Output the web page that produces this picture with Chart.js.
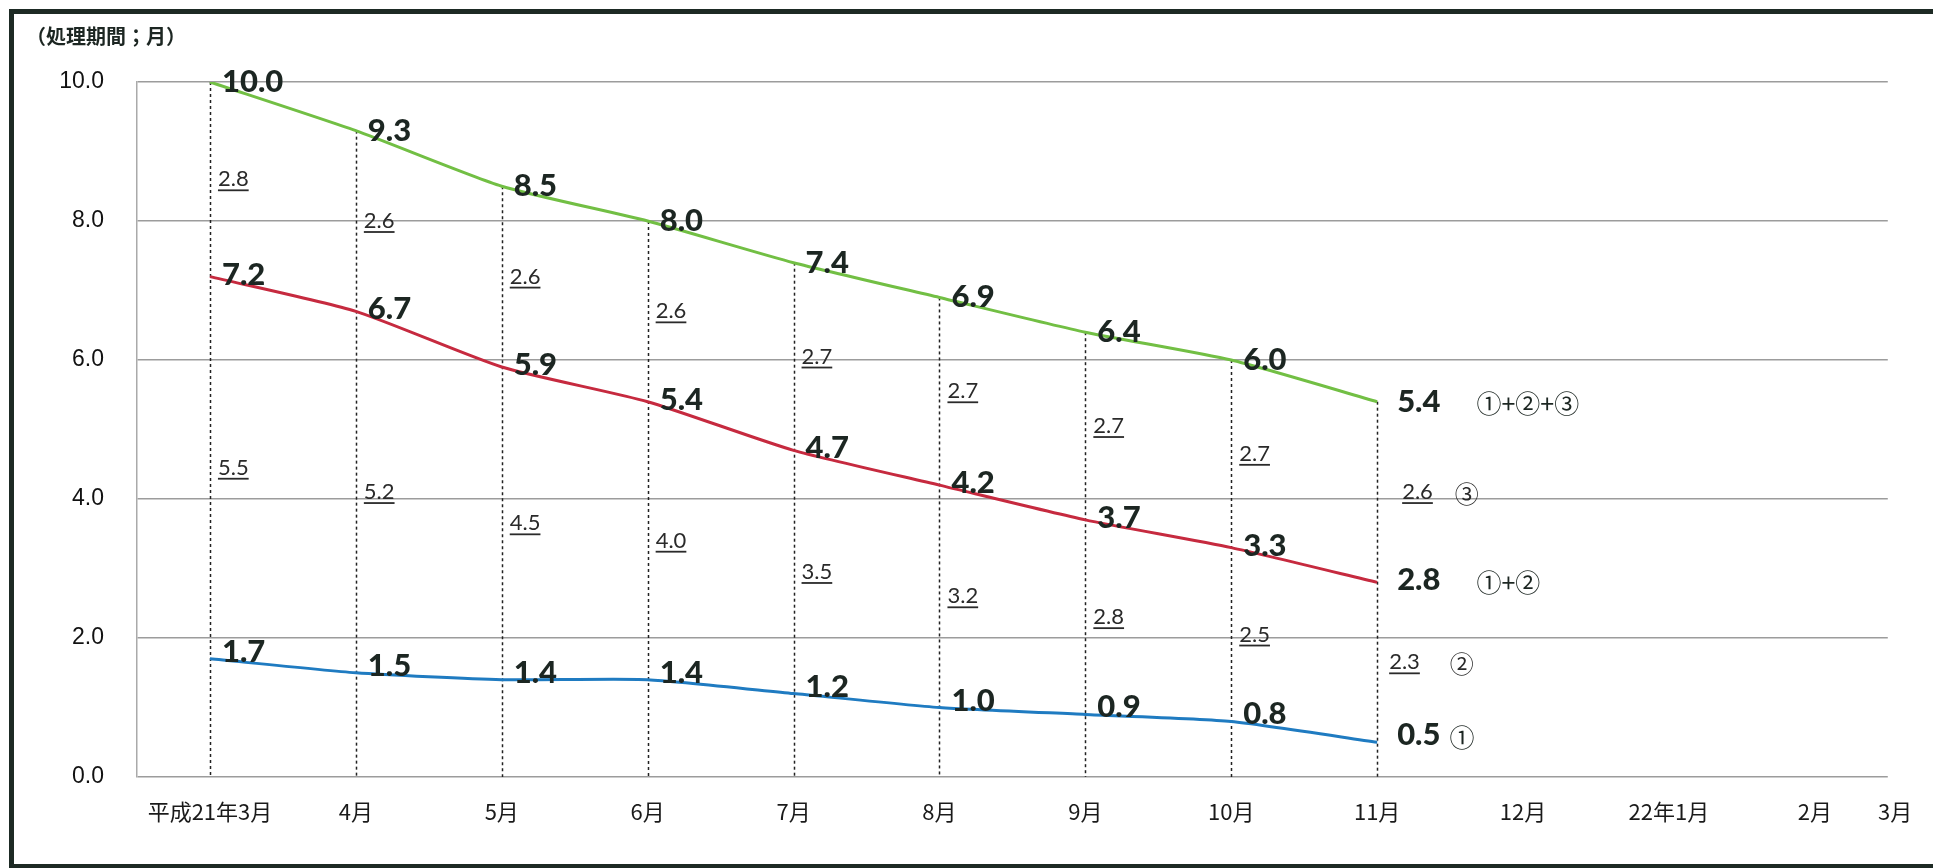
<!DOCTYPE html>
<html lang="ja">
<head>
<meta charset="utf-8">
<title>処理期間の推移</title>
<script src="https://cdn.jsdelivr.net/npm/chart.js@4.4.1/dist/chart.umd.min.js"></script>
<style>
  html, body { margin: 0; padding: 0; background: #fff; }
  #wrap { position: relative; width: 1933px; height: 868px; overflow: hidden; }
  #frame {
    position: absolute; left: 9px; top: 9px; width: 1940px; height: 850px;
    border: 5px solid #1d2a24; border-right: none; pointer-events: none;
  }
  canvas { position: absolute; left: 0; top: 0; }
</style>
</head>
<body>
<div id="wrap">
  <canvas id="chart" width="1933" height="868"></canvas>
  <div id="frame"></div>
</div>
<script>
// ── Data ─────────────────────────────────────────────────────────
const X_LABELS = ['平成21年3月', '4月', '5月', '6月', '7月', '8月', '9月', '10月', '11月', '12月', '22年1月', '2月', '3月'];
const TOTAL   = [10.0, 9.3, 8.5, 8.0, 7.4, 6.9, 6.4, 6.0, 5.4];   // ①+②+③
const ONE_TWO = [7.2, 6.7, 5.9, 5.4, 4.7, 4.2, 3.7, 3.3, 2.8];    // ①+②
const ONE     = [1.7, 1.5, 1.4, 1.4, 1.2, 1.0, 0.9, 0.8, 0.5];    // ①
const TWO     = [5.5, 5.2, 4.5, 4.0, 3.5, 3.2, 2.8, 2.5, 2.3];    // ②
const THREE   = [2.8, 2.6, 2.6, 2.6, 2.7, 2.7, 2.7, 2.7, 2.6];    // ③
const Y_TITLE = '（処理期間；月）';

// Shared styles
const INK  = '#1c2622';
const GRID = '#9c9c9c';
const CJK  = '"Noto Sans CJK JP", sans-serif';
const NUM  = 'Lato, "Open Sans", sans-serif';

// series lines, drawn as cumulative totals
const SERIES = [
  { data: TOTAL,   color: '#72bf44', tag: '①+②+③', tagGap: 36, dy: 0 },
  { data: ONE_TWO, color: '#c62a3f', tag: '①+②',   tagGap: 36, dy: -2 },
  { data: ONE,     color: '#1f7bc1', tag: '①',     tagGap: 9,  dy: -7 }
];

// component values written between the lines (underlined)
const PARTS = [
  { data: THREE, upper: TOTAL,   lower: ONE_TWO, tag: '③', lastDx: 25, tagGap: 22 },
  { data: TWO,   upper: ONE_TWO, lower: ONE,     tag: '②', lastDx: 12, tagGap: 30 }
];

const LAST = TOTAL.length - 1;

// ── Dashed drop lines from the top line to the axis ──────────────
const dropLines = {
  id: 'dropLines',
  beforeDatasetsDraw(chart) {
    const { ctx, scales: { x, y } } = chart;
    ctx.save();
    ctx.strokeStyle = '#222';
    ctx.lineWidth = 1.5;
    ctx.setLineDash([3, 3]);
    TOTAL.forEach((v, i) => {
      const px = Math.round(x.getPixelForValue(i)) + 0.5;
      ctx.beginPath();
      ctx.moveTo(px, y.getPixelForValue(v));
      ctx.lineTo(px, y.getPixelForValue(0));
      ctx.stroke();
    });
    ctx.restore();
  }
};

// ── Value labels, component labels, axis title ───────────────────
const labels = {
  id: 'labels',
  afterDatasetsDraw(chart) {
    const { ctx, scales: { x, y } } = chart;
    ctx.save();
    ctx.textBaseline = 'middle';
    ctx.textAlign = 'left';
    ctx.fillStyle = INK;

    SERIES.forEach(s => {
      s.data.forEach((v, i) => {
        const px = x.getPixelForValue(i) + (i === LAST ? 20 : 12);
        const py = y.getPixelForValue(v) + s.dy;
        const t = v.toFixed(1);
        ctx.fillStyle = INK;
        ctx.font = `900 31px ${NUM}`;
        ctx.fillText(t, px, py);
        if (i === LAST) {
          const w = ctx.measureText(t).width;
          ctx.font = `25px ${CJK}`;
          ctx.fillText(s.tag, px + w + s.tagGap, py + 2);
        }
      });
    });

    PARTS.forEach(p => {
      p.data.forEach((v, i) => {
        const px = x.getPixelForValue(i) + (i === LAST ? p.lastDx : 8);
        const py = y.getPixelForValue((p.upper[i] + p.lower[i]) / 2);
        const t = v.toFixed(1);
        ctx.font = `22px ${NUM}`;
        ctx.fillStyle = '#2a2a2a';
        ctx.fillText(t, px, py);
        const w = ctx.measureText(t).width;
        ctx.strokeStyle = '#2a2a2a';
        ctx.lineWidth = 1.8;
        ctx.beginPath();
        ctx.moveTo(px, py + 11);
        ctx.lineTo(px + w, py + 11);
        ctx.stroke();
        if (i === LAST) {
          ctx.font = `24px ${CJK}`;
          ctx.fillText(p.tag, px + w + p.tagGap, py + 2);
        }
      });
    });

    ctx.fillStyle = INK;
    ctx.font = `bold 20px ${CJK}`;
    ctx.fillText(Y_TITLE, 26, 36);
    ctx.restore();
  }
};

new Chart(document.getElementById('chart'), {
  type: 'line',
  data: {
    datasets: SERIES.map(s => ({
      data: s.data.map((v, i) => ({ x: i, y: v })),
      borderColor: s.color,
      borderWidth: 3,
      pointRadius: 0,
      tension: 0.2,
      fill: false
    }))
  },
  options: {
    responsive: false,
    animation: false,
    layout: { padding: { left: 0, top: 82, right: 45, bottom: 0 } },
    plugins: { legend: { display: false }, tooltip: { enabled: false } },
    scales: {
      x: {
        type: 'linear',
        min: -0.5,
        max: 11.5,
        afterBuildTicks: s => { s.ticks = X_LABELS.map((_, i) => ({ value: Math.min(i, 11.55) })); },
        afterFit: s => { s.height = 91; },
        grid: { display: false, drawTicks: false },
        border: { display: false },
        ticks: {
          autoSkip: false, maxRotation: 0, padding: 21, color: '#1a1a1a',
          font: { family: CJK, size: 22 },
          callback: (v, i) => X_LABELS[i]
        }
      },
      y: {
        min: 0,
        max: 10,
        afterFit: s => { s.width = 137; },
        grid: { color: GRID, lineWidth: 1.5, drawTicks: false },
        border: { display: true, color: '#aaa', width: 1.5 },
        ticks: {
          stepSize: 2, padding: 33, color: '#111',
          font: { family: '"Liberation Sans", Arial, sans-serif', size: 23 },
          callback: v => v.toFixed(1)
        }
      }
    }
  },
  plugins: [dropLines, labels]
});
</script>
</body>
</html>
